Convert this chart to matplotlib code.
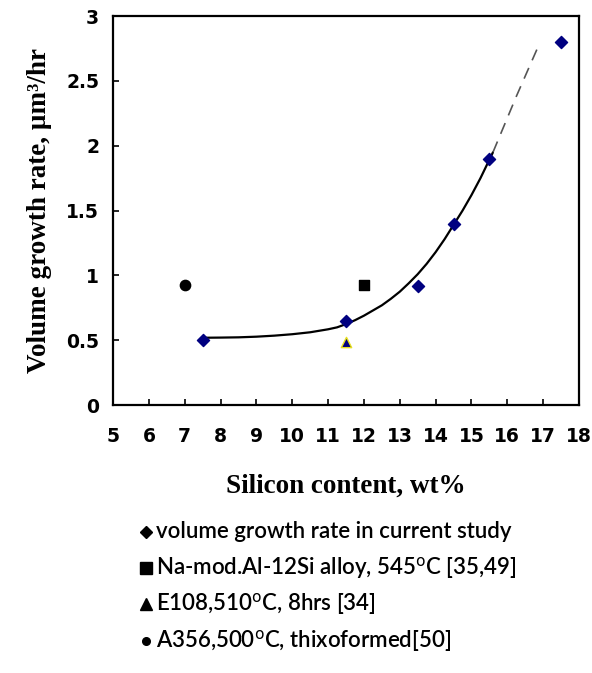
import matplotlib.pyplot as plt
from matplotlib.lines import Line2D

# measured points
si_current = [7.5, 11.5, 13.5, 14.5, 15.5, 17.5]
rate_current = [0.50, 0.65, 0.92, 1.40, 1.90, 2.80]
si_namod, rate_namod = [12.0], [0.93]
si_e108, rate_e108 = [11.5], [0.49]
si_a356, rate_a356 = [7.0], [0.93]

# trend line
fit_x = [7.6, 8.0, 8.5, 9.0, 9.5, 10.0, 10.5, 11.0, 11.25, 11.5, 11.75, 12.0,
         12.25, 12.5, 12.75, 13.0, 13.25, 13.5, 13.75, 14.0, 14.25, 14.5,
         14.75, 15.0, 15.25, 15.6]
fit_y = [0.52, 0.521, 0.523, 0.528, 0.536, 0.547, 0.562, 0.585, 0.60, 0.625,
         0.655, 0.69, 0.73, 0.77, 0.82, 0.875, 0.94, 1.01, 1.09, 1.18, 1.28,
         1.39, 1.50, 1.62, 1.75, 1.95]
ext_x = [15.6, 16.25, 16.9]
ext_y = [1.95, 2.38, 2.79]

legend_labels = [
    "volume growth rate in current study",
    "Na-mod.Al-12Si alloy, 545$^{\\mathrm{o}}$C [35,49]",
    "E108,510$^{\\mathrm{o}}$C, 8hrs [34]",
    "A356,500$^{\\mathrm{o}}$C, thixoformed[50]",
]

fig = plt.figure(figsize=(5.92, 6.73), dpi=100)
ax = fig.add_axes([0.191, 0.398, 0.787, 0.578])

ax.plot(fit_x, fit_y, color="black", lw=1.6, solid_capstyle="round")
ax.plot(ext_x, ext_y, color="#555555", lw=1.2, dashes=(7, 5))
ax.scatter(si_current, rate_current, marker="D", s=38, color="#000080", zorder=3)
ax.scatter(si_namod, rate_namod, marker="s", s=55, color="black", zorder=3)
ax.scatter(si_e108, rate_e108, marker="^", s=55, color="#000080",
           edgecolor="#e8e020", linewidth=1, zorder=3)
ax.scatter(si_a356, rate_a356, marker="o", s=55, color="black", zorder=3)

ax.set_xlim(5, 18)
ax.set_ylim(0, 3)
ax.set_xticks(range(5, 19))
ax.set_yticks([0, 0.5, 1, 1.5, 2, 2.5, 3])
ax.set_yticklabels(["0", "0.5", "1", "1.5", "2", "2.5", "3"])
ax.tick_params(direction="in", length=4, width=1.2, labelsize=13.5)
ax.tick_params(axis="x", pad=16)
ax.tick_params(axis="y", pad=10)
for lab in ax.get_xticklabels() + ax.get_yticklabels():
    lab.set_fontweight("bold")
    lab.set_family("DejaVu Sans")
for sp in ax.spines.values():
    sp.set_linewidth(1.6)

ax.set_xlabel("Silicon content, wt%", family="Liberation Serif",
              fontweight="bold", fontsize=19.5, labelpad=20)
ax.set_ylabel("Volume growth rate, µm³/hr", family="Liberation Serif",
              fontweight="bold", fontsize=19.5, labelpad=10)

# legend drawn as text rows under the chart
markers = ["D", "s", "^", "o"]
msizes = [6, 9, 9, 5.5]
rows_y = [532, 568, 604, 641]
for mk, ms, lab, yp in zip(markers, msizes, legend_labels, rows_y):
    yf = 1 - yp / 673
    fig.add_artist(Line2D([146 / 592], [yf], marker=mk, markersize=ms,
                          color="black", linestyle="none",
                          transform=fig.transFigure))
    fig.text(156 / 592, yf, lab, family="Lato", fontweight="semibold",
             fontsize=16, va="center", ha="left")

fig.savefig("out.png", dpi=100)
